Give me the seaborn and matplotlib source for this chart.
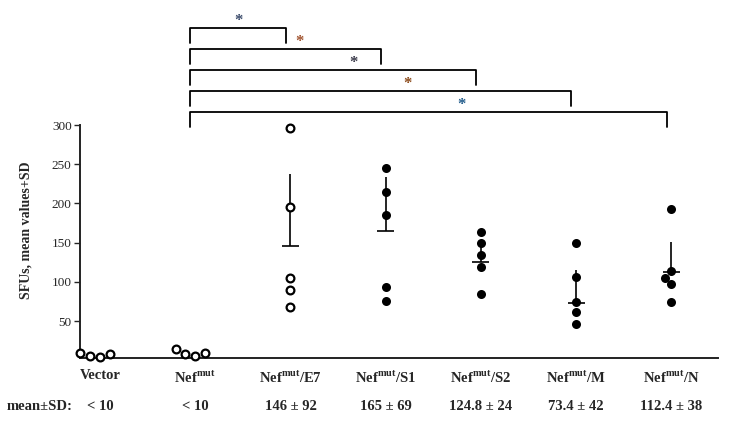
import numpy as np
import pandas as pd
import matplotlib
matplotlib.use("Agg")
import matplotlib.pyplot as plt
import matplotlib.transforms as mtransforms
import seaborn as sns

# Data
categories = ["Vector", "Nef$^{\\mathrm{mut}}$", "Nef$^{\\mathrm{mut}}$/E7", "Nef$^{\\mathrm{mut}}$/S1",
              "Nef$^{\\mathrm{mut}}$/S2", "Nef$^{\\mathrm{mut}}$/M", "Nef$^{\\mathrm{mut}}$/N"]
vector_vals = [8, 4, 10, 5]
nefmut_vals = [8, 14, 10, 5]
e7_vals = [296, 196, 105, 90, 68]
s1_vals = [245, 214, 185, 93, 76]
s2_vals = [164, 150, 134, 119, 85]
m_vals = [150, 106, 74, 62, 47]
n_vals = [193, 114, 105, 97, 75]
open_groups = [0, 1, 2]          # groups drawn with open circles

means = [np.nan, np.nan, 146, 165, 124.8, 73.4, 112.4]
sds = [np.nan, np.nan, 92, 69, 24, 42, 38]
mean_labels = ["< 10", "< 10", "146 ± 92", "165 ± 69", "124.8 ± 24", "73.4 ± 42", "112.4 ± 38"]

# significance brackets: from Nef^mut to each of these groups
bracket_targets = [2, 3, 4, 5, 6]
star_colors = ["#3a4a6a", "#a0522d", "#3a3a4a", "#8b4a1a", "#1f5a8a"]

all_vals = [vector_vals, nefmut_vals, e7_vals, s1_vals, s2_vals, m_vals, n_vals]
rows = []
for i, vals in enumerate(all_vals):
    for v in vals:
        rows.append({"group": categories[i], "value": v,
                     "style": "open" if i in open_groups else "filled"})
df = pd.DataFrame(rows)

sns.set_style("white")
plt.rcParams["font.family"] = ["Liberation Serif", "DejaVu Serif"]
plt.rcParams["mathtext.fontset"] = "custom"
plt.rcParams["mathtext.rm"] = "Liberation Serif:bold"
plt.rcParams["mathtext.bf"] = "Liberation Serif:bold"

fig = plt.figure(figsize=(7.32, 4.25), dpi=100)
ax = fig.add_axes([0.1093, 0.1576, 0.8716, 0.5482])

sns.swarmplot(data=df[df["style"] == "open"], x="group", y="value", order=categories,
              color="white", edgecolor="black", linewidth=1.6, size=5.6, ax=ax)
sns.swarmplot(data=df[df["style"] == "filled"], x="group", y="value", order=categories,
              color="black", edgecolor="black", linewidth=0, size=6.5, ax=ax)
for c in ax.collections:
    c.set_clip_on(False)

# mean + SD (upper only)
xs = np.arange(len(categories))
ax.errorbar(xs, means, xerr=0.09, yerr=[np.zeros(len(sds)), sds], fmt="none",
            ecolor="black", elinewidth=1.2, capsize=0)

ax.set_xlim(-0.21, 6.49)
ax.set_ylim(3, 300)
ax.set_yticks([50, 100, 150, 200, 250, 300])
ax.set_xlabel("")
ax.set_ylabel("SFUs, mean values+SD", fontsize=10, fontweight="bold")
ax.yaxis.set_label_coords(-0.074, 0.55)

sns.despine(ax=ax, top=True, right=True)
for side in ["left", "bottom"]:
    ax.spines[side].set_linewidth(1.4)
    ax.spines[side].set_color("#222222")
ax.tick_params(axis="y", direction="out", length=4, width=1, labelsize=9.5, pad=2, left=True)
ax.tick_params(axis="x", length=0, pad=8, labelsize=10.5)
for lab in ax.get_xticklabels():
    lab.set_fontweight("bold")

# mean ± SD row
trans = mtransforms.blended_transform_factory(ax.transData, ax.transAxes)
for i, txt in enumerate(mean_labels):
    ax.text(i, -0.21, txt, transform=trans, ha="center", va="center",
            fontsize=10.5, fontweight="bold")
fig.text(40 / 732, 1 - 407 / 425, "mean±SD:", ha="center", va="center",
         fontsize=10.5, fontweight="bold")

# significance brackets above the axes
n_br = len(bracket_targets)
for k, j in enumerate(bracket_targets):
    level = 1.056 + 0.090 * (n_br - 1 - k)
    x0, x1 = 0.95, j - 0.05
    ax.plot([x0, x0, x1, x1], [level - 0.064, level, level, level - 0.064],
            color="black", lw=1.3, transform=trans, clip_on=False)
    frac = 0.5 if k == 0 else 0.57
    ax.text(x0 + frac * (x1 - x0), level + 0.032, "*", transform=trans,
            ha="center", va="center", fontsize=12, fontweight="bold",
            color=star_colors[k])

fig.savefig("out.png", dpi=100)
